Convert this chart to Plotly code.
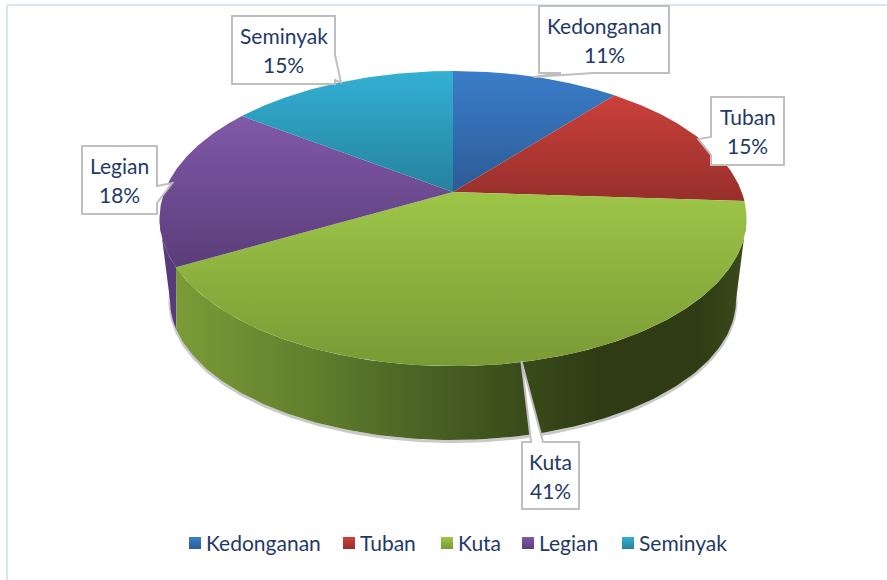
import numpy as np
import plotly.graph_objects as go

# ---- data ----
names = ["Kedonganan", "Tuban", "Kuta", "Legian", "Seminyak"]
values = [11, 15, 41, 18, 15]

# ---- style ----
top_light = ["#3b7dca", "#cb403b", "#9dc648", "#8059a9", "#33b0d4"]
top_dark = ["#2b5b94", "#962f2b", "#7a9a35", "#5b3d79", "#25829e"]
side_legian = "#563a7c"
kuta_side_stops = [(178, "#7a9b37"), (300, "#64822e"), (400, "#4f6826"), (520, "#3a4c1a"),
                   (600, "#2f3c13"), (700, "#2f3d14"), (745, "#3b4a1a")]
text_color = "#1f3a68"
box_line = "#bfbfbf"
font = "Lato"
legend_swatch_x = [195, 349, 447, 528, 628]
legend_text_x = [207, 361, 459, 540, 640]
legend_y = 543

# projection of the disc: apex position, half axes, perspective
CX = 453.0
TOP = dict(ay=192.0, A=288.7, B=142.8, k=0.18)
LOW = dict(ay=258.0, A=270.0, B=127.4, k=0.30)


def project(theta, p):
    d = 1 + p["k"] * np.cos(theta)
    return CX + p["A"] * np.sin(theta) / d, p["ay"] - p["B"] * np.cos(theta) / d


def arc(t0, t1, p, n=90):
    return project(np.linspace(t0, t1, n), p)


fractions = np.array(values) / sum(values)
edges = np.concatenate([[0], np.cumsum(fractions)]) * 2 * np.pi
mids = (edges[:-1] + edges[1:]) / 2

fig = go.Figure()

# soft shadow below the body
sx, sy = arc(np.pi * 0.55, np.pi * 1.45, LOW, 160)
fig.add_trace(go.Scatter(x=sx, y=sy + 1.5, mode="lines", line=dict(color="#c9c9c9", width=3),
                         showlegend=False, hoverinfo="skip"))

# visible side faces: Legian (left) and Kuta (front)
right_top, right_low = np.arccos(-TOP["k"]), np.arccos(-LOW["k"])
left_top, left_low = 2 * np.pi - right_top, 2 * np.pi - right_low

lx0, ly0 = arc(edges[3], left_top, TOP, 30)
lx1, ly1 = arc(left_low, edges[3], LOW, 30)
fig.add_trace(go.Scatter(x=np.r_[lx0, lx1], y=np.r_[ly0, ly1], mode="lines", fill="toself",
                         line=dict(width=0), fillcolor=side_legian,
                         showlegend=False, hoverinfo="skip"))

kx0, ky0 = arc(right_top, edges[3], TOP, 160)
kx1, ky1 = arc(edges[3], right_low, LOW, 160)
span = kuta_side_stops[-1][0] - kuta_side_stops[0][0]
scale = [[(x - kuta_side_stops[0][0]) / span, c] for x, c in kuta_side_stops]
fig.add_trace(go.Scatter(x=np.r_[kx0, kx1], y=np.r_[ky0, ky1], mode="lines", fill="toself",
                         line=dict(width=0),
                         fillgradient=dict(type="horizontal", colorscale=scale,
                                           start=kuta_side_stops[0][0], stop=kuta_side_stops[-1][0]),
                         showlegend=False, hoverinfo="skip"))

# top faces
for i, name in enumerate(names):
    ax, ay = arc(edges[i], edges[i + 1], TOP, 120)
    x = np.r_[CX, ax, CX]
    y = np.r_[TOP["ay"], ay, TOP["ay"]]
    fig.add_trace(go.Scatter(x=x, y=y, mode="lines", fill="toself", line=dict(width=0),
                             fillgradient=dict(type="vertical",
                                               colorscale=[[0, top_light[i]], [1, top_dark[i]]],
                                               start=float(y.min()), stop=float(y.max())),
                             name=name, showlegend=False,
                             hovertemplate=f"{name}: {values[i]}%<extra></extra>"))

# legend keys
for i, name in enumerate(names):
    fig.add_trace(go.Scatter(x=[legend_swatch_x[i]], y=[legend_y], mode="markers", name=name,
                             showlegend=False, hoverinfo="skip",
                             marker=dict(symbol="square", size=12, color=top_light[i],
                                         gradient=dict(type="vertical", color=top_dark[i]),
                                         line=dict(width=0))))

# callouts: box (x0, y0, x1, y1), side that carries the tail, tail base along this side,
# horizontal nudge of the tail tip from the slice's mid-angle point on the rim
boxes = {
    "Kedonganan": ((539, 6, 669, 73), "bottom", (561, 593), -3),
    "Tuban": ((711, 97, 784, 165), "left", (137, 155), -2),
    "Kuta": ((522, 442, 579, 509), "top", (531, 543), -8),
    "Legian": ((82, 146, 157, 214), "right", (186, 203), 4),
    "Seminyak": ((232, 16, 335, 84), "right", (55, 80), 1),
}


def callout_path(box, side, base, tip):
    x0, y0, x1, y1 = box
    a, b = base
    tx, ty = tip
    p = [(x0, y0)]
    if side == "top":
        p += [(a, y0), (tx, ty), (b, y0)]
    p += [(x1, y0)]
    if side == "right":
        p += [(x1, a), (tx, ty), (x1, b)]
    p += [(x1, y1)]
    if side == "bottom":
        p += [(b, y1), (tx, ty), (a, y1)]
    p += [(x0, y1)]
    if side == "left":
        p += [(x0, b), (tx, ty), (x0, a)]
    return "M " + " L ".join(f"{px:.1f},{py:.1f}" for px, py in p) + " Z"


shapes = [
    dict(type="line", xref="x", yref="y", x0=7, x1=887, y0=5, y1=5, line=dict(color="#dbe6f3", width=2)),
    dict(type="line", xref="x", yref="y", x0=7, x1=7, y0=5, y1=580, line=dict(color="#dbe6f3", width=2)),
]
annotations = []
label_font = dict(family=font, size=21, color=text_color)
for i, name in enumerate(names):
    box, side, base, nudge = boxes[name]
    tx, ty = project(mids[i], TOP)
    shapes.append(dict(type="path", xref="x", yref="y", path=callout_path(box, side, base, (tx + nudge, ty)),
                       fillcolor="white", line=dict(color=box_line, width=2), layer="above"))
    xc, yc = (box[0] + box[2]) / 2, (box[1] + box[3]) / 2
    annotations.append(dict(x=xc, y=yc - 14.5, xref="x", yref="y", text=name, showarrow=False, font=label_font))
    annotations.append(dict(x=xc, y=yc + 14.5, xref="x", yref="y", text=f"{values[i]}%", showarrow=False, font=label_font))
    annotations.append(dict(x=legend_text_x[i], y=legend_y - 1, xref="x", yref="y", xanchor="left",
                            yanchor="middle", text=name, showarrow=False, xshift=-3, font=label_font))

fig.update_layout(
    width=887, height=580,
    margin=dict(l=0, r=0, t=0, b=0),
    paper_bgcolor="white", plot_bgcolor="white",
    xaxis=dict(range=[0, 887], visible=False, fixedrange=True),
    yaxis=dict(range=[580, 0], visible=False, fixedrange=True),
    shapes=shapes, annotations=annotations,
    showlegend=False,
)
fig.write_html("out.html", config=dict(displayModeBar=False),
               post_script="document.body.style.margin='0';document.documentElement.style.overflow='hidden';")
